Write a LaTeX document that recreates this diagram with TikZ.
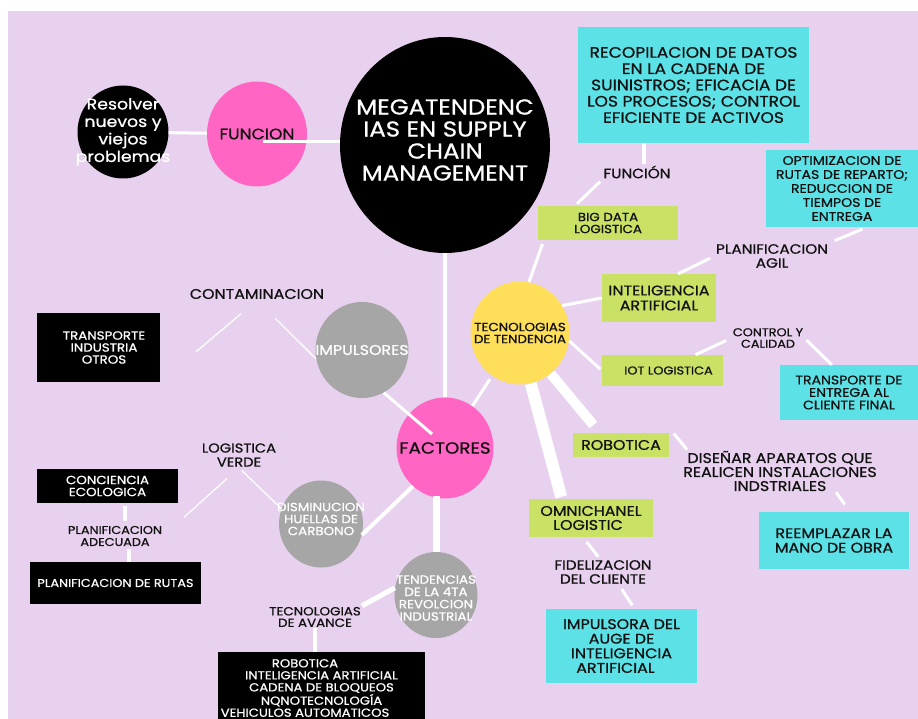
\documentclass[tikz,border=0pt]{standalone}
\usepackage{fontspec}
\setmainfont{Poppins}[Scale=1.08, FakeStretch=1.13, FakeBold=0.8]
\usepackage{xcolor}
\usepackage{tikz}
\usetikzlibrary{shapes.geometric,positioning,calc}
\definecolor{cLav}{HTML}{E8D1EE}
\definecolor{cPink}{HTML}{FF66C4}
\definecolor{cSun}{HTML}{FFDE59}
\definecolor{cGray}{HTML}{A6A6A6}
\definecolor{cGreen}{HTML}{C9E265}
\definecolor{cCyan}{HTML}{5CE1E6}
\definecolor{cInk}{HTML}{111111}
\newcommand{\fz}[2]{\fontsize{#1}{#2}\selectfont}

\begin{document}
\begin{tikzpicture}[
    x=1pt, y=1pt,
    disc/.style 2 args={ellipse, minimum width=#1, minimum height=#2, inner sep=0},
    box/.style={rectangle, inner sep=0, align=center, text=cInk},
    word/.style={align=center, inner sep=1pt, text=cInk},
    lbl/.style={align=center, inner sep=0},
    link/.style={white, line width=3pt},
    thinlink/.style={white, line width=1.3pt}
]
\useasboundingbox (0,0) rectangle (918,-719);
\fill[cLav] (8,-11) rectangle (918,-719);

% Core circles
\node[disc={91}{93}, fill=black, label={[lbl, text=white, font=\fz{14.2}{17.5}]center:Resolver\\nuevos y\\viejos\\problemas}] (res) at (123,-132) {};
\node[disc={100}{105}, fill=cPink, label={[lbl, text=cInk, font=\fz{14}{16}]center:FUNCION}] (fun) at (257,-134) {};
\node[disc={210}{216}, fill=black, label={[lbl, text=white, yshift=5, font=\fz{20}{22}]center:MEGATENDENC\\IAS EN SUPPLY\\CHAIN\\MANAGEMENT}] (mega) at (445,-145) {};

% Factores branch
\node[disc={97}{101}, fill=cPink, label={[lbl, text=cInk, font=\fz{15}{17}]center:FACTORES}] (fac) at (445,-448) {};
\node[disc={93}{96}, fill=cGray, label={[lbl, text=white, font=\fz{13}{15}]center:IMPULSORES}] (imp) at (362,-350) {};
\node[disc={84}{87}, fill=cGray, label={[lbl, text=white, yshift=5, font=\fz{11}{12}]center:DISMINUCION\\HUELLAS DE\\CARBONO}] (dis) at (321,-524) {};
\node[disc={83}{86}, fill=cGray, label={[lbl, text=white, yshift=-3, font=\fz{11}{12.3}]center:TENDENCIAS\\DE LA 4TA\\REVOLCION\\INDUSTRIAL}] (tend) at (436,-595) {};
\node[disc={99}{103}, fill=cSun, label={[lbl, text=cInk, font=\fz{11}{12}]center:TECNOLOGIAS\\DE TENDENCIA}] (yel) at (520,-333) {};

% Left side
\node[word, font=\fz{13}{15}] (ct) at (257,-294) {CONTAMINACION};
\node[box, fill=black, text=white, minimum width=123, minimum height=69, font=\fz{11}{12}] (tr) at (98.5,-347.5) {\hspace*{11pt}TRANSPORTE\\\hspace*{11pt}INDUSTRIA\\\hspace*{11pt}OTROS};
\node[word, font=\fz{12}{14}] (lv) at (239,-455) {LOGISTICA\\VERDE};
\node[box, fill=black, text=white, minimum width=141, minimum height=34, font=\fz{11}{12}] (cc) at (107.5,-486) {CONCIENCIA\\ECOLOGICA};
\node[word, font=\fz{10.5}{12}] (pa) at (115,-536) {PLANIFICACION\\ADECUADA};
\node[box, fill=black, text=white, minimum width=171, minimum height=42, font=\fz{10.5}{12}] (pr) at (115.5,-583) {PLANIFICACION DE RUTAS};
\node[word, font=\fz{11}{11.5}] (tav) at (315,-617) {TECNOLOGIAS\\DE AVANCE};
\node[box, fill=black, text=white, minimum width=207, minimum height=72, font=\fz{10.8}{12}] (lst) at (321.5,-688) {ROBOTICA\hspace*{33pt}\\INTELIGENCIA ARTIFICIAL\hspace*{33pt}\\CADENA DE BLOQUEOS\hspace*{33pt}\\NQNOTECNOLOGÍA\hspace*{33pt}\\VEHICULOS AUTOMATICOS\hspace*{33pt}};

% Right side
\node[box, fill=cCyan, minimum width=231, minimum height=116, font=\fz{14}{16.3}] (rec) at (693.5,-85) {RECOPILACION DE DATOS\\EN LA CADENA DE\\SUINISTROS; EFICACIA DE\\LOS PROCESOS; CONTROL\\EFICIENTE DE ACTIVOS};
\node[word, font=\fz{12.5}{14}] (fn2) at (637,-172) {FUNCIÓN};
\node[box, fill=cGreen, minimum width=140, minimum height=34, font=\fz{11}{12}] (big) at (608,-223) {BIG DATA\\LOGISTICA};
\node[box, fill=cCyan, minimum width=152, minimum height=77, font=\fz{11.5}{14}] (opt) at (842,-188.5) {OPTIMIZACION DE\\RUTAS DE REPARTO;\\REDUCCION DE\\TIEMPOS DE\\ENTREGA};
\node[word, font=\fz{12.5}{14}] (pag) at (772,-256) {PLANIFICACION\\AGIL};
\node[box, fill=cGreen, minimum width=114, minimum height=48, font=\fz{13}{15}] (ia) at (659,-298) {INTELIGENCIA\\ARTIFICIAL};
\node[box, fill=cGreen, minimum width=121, minimum height=31, font=\fz{10.5}{12}] (iot) at (662.5,-370.5) {\hspace*{12pt}IOT LOGISTICA};
\node[word, font=\fz{10.5}{11.5}] (cy) at (768,-338) {CONTROL Y\\CALIDAD};
\node[box, fill=cCyan, minimum width=138, minimum height=55, font=\fz{11.5}{12.5}] (te) at (849,-392.5) {TRANSPORTE DE\\ENTREGA AL\\CLIENTE FINAL};
\node[box, fill=cGreen, minimum width=96, minimum height=24, font=\fz{13}{15}] (rob) at (621,-445) {ROBOTICA};
\node[word, font=\fz{13}{14}] (dsn) at (780,-471) {DISEÑAR APARATOS QUE\\REALICEN INSTALACIONES\\INDSTRIALES};
\node[box, fill=cCyan, minimum width=150, minimum height=57, font=\fz{13}{14.5}] (rem) at (834,-540.5) {REEMPLAZAR LA\\MANO DE OBRA};
\node[box, fill=cGreen, minimum width=124, minimum height=38, font=\fz{13}{14}] (omni) at (591,-518) {OMNICHANEL\\LOGISTIC\hspace*{6pt}};
\node[word, font=\fz{12.5}{14}] (fid) at (603,-572) {FIDELIZACION\\DEL CLIENTE};
\node[box, fill=cCyan, minimum width=151, minimum height=74, font=\fz{13}{14.6}] (aug) at (621.5,-646) {IMPULSORA DEL\\AUGE DE\\INTELIGENCIA\\ARTIFICIAL\hspace*{12pt}};

% Connectors - trunk
\draw[link] (res) -- (fun);
\draw[link] ([shift={(6,-8)}]fun.center) -- ([yshift=3]mega.west);
\draw[link, line width=4pt] (mega) -- (fac);

% Connectors - factores
\draw[link] (imp.-63) -- ([shift={(-13,14)}]fac.center);
\draw[link, line width=4pt] (dis.-15) -- (fac.230);
\draw[link, line width=7pt, shorten <=-3] (tend.north |- fac.south) -- (tend.north);
\draw[link, line width=5pt] (tend.170) -- (tav.north east);
\draw[link, line width=4pt] (tav.south) -- (tav.south |- lst.north);
\draw[link, shorten >=4] (fac) -- (yel);

% Connectors - left labels
\draw[thinlink, shorten <=21, shorten >=47] (ct.south) -- (tr.south east);
\draw[thinlink, shorten <=26] (ct.south) -- (imp.191);
\draw[thinlink, shorten <=16, shorten >=28] (lv.south) -- (pa.east);
\draw[thinlink, shorten <=4] (lv.south) -- (dis.159);
\draw[link, line width=4pt, shorten <=4, shorten >=3] ([xshift=10]pa.north) -- ([xshift=10]pa.north |- cc.south);
\draw[link, line width=4pt, shorten <=2] ([xshift=14]pa.south) -- ([xshift=14]pa.south |- pr.north);

% Connectors - tecnologias
\draw[link, shorten >=4] (yel.80) -- ([xshift=6]big.south west);
\draw[link, shorten <=3, shorten >=3] ([xshift=37]big.north west) -- (fn2.south west);
\draw[link, line width=3.5pt] ([xshift=7]fn2.north) -- ([xshift=7]fn2.north |- rec.south);
\draw[link] (yel.33) -- (ia.west);
\draw[link, shorten >=5] ([xshift=19]ia.north) -- (pag.west);
\draw[link, shorten <=6, shorten >=5] (pag.north east) -- ([xshift=25]opt.south);
\draw[link, shorten >=2] (yel.-9) -- (iot.west);
\draw[link, shorten >=6] ([xshift=33]iot.north) -- (cy.west);
\draw[link, shorten <=3] (cy.east) -- ([xshift=52]te.north west);
\draw[link, line width=10pt, shorten >=10] (yel.-53) -- ([xshift=27]rob.north west);
\draw[link, line width=12pt, shorten >=2] (yel.-78) -- ([xshift=33]omni.north west);
\draw[link, shorten <=1] ([xshift=4]rob.north east) -- ([xshift=5]dsn.north west);
\draw[link, shorten >=9] ([xshift=56]dsn.south) -- ([xshift=16]rem.north);
\draw[link, shorten <=6, shorten >=3] ([xshift=-8]omni.south) -- ([xshift=-3]fid.north);
\draw[link, shorten <=5, shorten >=4] ([xshift=16]fid.south) -- ([xshift=13]aug.north);

\end{tikzpicture}
\end{document}
